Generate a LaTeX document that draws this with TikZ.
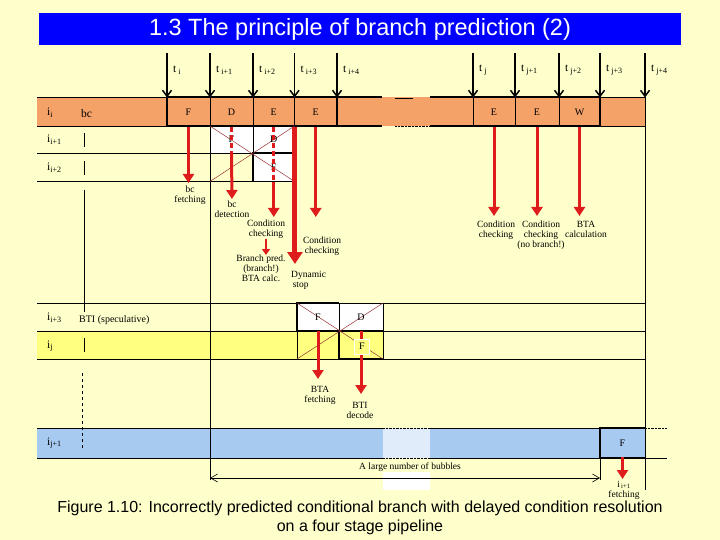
\documentclass[tikz,border=0pt]{standalone}
\usepackage{fontspec}
\setmainfont{Liberation Serif}
\newfontfamily\arialfont{Liberation Sans}
\usetikzlibrary{arrows.meta,positioning}
\definecolor{bgyellow}{RGB}{255,255,204}
\definecolor{titleblue}{RGB}{0,0,255}
\definecolor{stageorange}{RGB}{245,162,105}
\definecolor{rowyellow}{RGB}{255,255,128}
\definecolor{rowblue}{RGB}{166,202,240}
\definecolor{predred}{RGB}{222,28,28}
\definecolor{crossred}{RGB}{150,50,50}
\tikzset{
	tarrow/.style={line width=1.8pt,-{Straight Barb[length=6pt,width=9pt,line width=1.5pt]}},
	tlab/.style={font=\fontsize{11.5}{12}\selectfont,anchor=west,inner sep=0pt},
	rowlab/.style={font=\fontsize{11.5}{12}\selectfont,anchor=west,inner sep=0pt},
	stage/.style={font=\fontsize{10}{11}\selectfont,minimum width=42pt,minimum height=28.5pt,inner sep=0pt},
	lbl/.style={font=\fontsize{9.5}{10}\selectfont,align=center,inner sep=0pt,anchor=north},
	redarr/.style={draw=predred,line width=3pt,-{Triangle[length=9pt,width=11pt]}},
	redbig/.style={draw=predred,line width=5pt,-{Triangle[length=12pt,width=15pt]}},
	redsmall/.style={draw=predred,line width=2.2pt,-{Triangle[length=6pt,width=8pt]}},
	reddash/.style={draw=predred,line width=3pt,dash pattern=on 5pt off 3pt},
	crossln/.style={draw=crossred,line width=0.5pt},
	thinline/.style={line width=0.6pt},
	boldline/.style={line width=2pt},
}
\begin{document}
\begin{tikzpicture}[x=1pt,y=-1pt]
	\useasboundingbox (0,0) rectangle (720,540);
	\fill[bgyellow] (0,0) rectangle (720,540);
	% title
	\fill[titleblue] (39,13) rectangle (681,45);
	\node[font=\arialfont\fontsize{23.5}{26}\selectfont,text=white] (title) at (360,29.5) {1.3 The principle of branch prediction (2)};
	
	% row fills
	\fill[stageorange] (37,97.5) rectangle (645,126);
	\fill[white] (210,126) rectangle (294.5,153);
	\fill[white] (253,153) rectangle (294.5,181.5);
	\fill[rowyellow] (37,331) rectangle (383,359);
	\fill[white] (297,303) rectangle (383,331);
	\fill[rowblue] (37,428) rectangle (645,458);
	\fill[rowblue!35!white] (383,428) rectangle (430,458);
	
	% grid lines
	\draw[thinline] (37,97.5) -- (167,97.5);
	\draw[thinline] (37,126) -- (210,126);
	\draw[thinline] (37,153) -- (253,153);
	\draw[thinline] (37,181.5) -- (294.5,181.5);
	\draw[thinline] (210,97.5) -- (210,480);
	\draw[thinline] (253,97.5) -- (253,153);
	\draw[thinline] (294.5,97.5) -- (294.5,126);
	\draw[thinline] (210,126) rectangle (294.5,153);
	\draw[boldline] (382,97.5) -- (167,97.5) -- (167,126) -- (382,126);
	\draw[boldline] (337,97.5) -- (337,126);
	\draw[boldline] (253,181.5) -- (253,153) -- (294.5,153);
	\draw[boldline] (430,97.5) -- (600,97.5) -- (600,126) -- (430,126);
	\draw[thinline] (600,97.5) -- (645,97.5) (600,126) -- (645,126);
	\draw[thinline] (473,97.5) -- (473,126) (515,97.5) -- (515,126) (559,97.5) -- (559,126);
	\draw[thinline] (645,97.5) -- (645,490);
	\draw[thinline] (395,98.5) -- (413,98.5);
	\draw[densely dotted] (395,126) -- (430,126);
	\draw[crossln] (210,126) -- (294.5,181.5) (210,181.5) -- (294.5,126);
	
	\draw[thinline] (84,133) -- (84,147) (84,161) -- (84,175) (84,190) -- (84,312) (84,338) -- (84,352);
	\draw[thinline,dashed] (82,373) -- (82,448);
	
	\draw[thinline] (37,303) -- (645,303) (37,331) -- (645,331) (37,359) -- (645,359);
	\draw[thinline] (339,303) -- (339,331) (383,303) -- (383,359) (297,331) -- (297,359);
	\draw[boldline] (297,331) -- (297,303) -- (339,303);
	\draw[boldline] (297,331) -- (383,331);
	\draw[boldline] (339,331) -- (339,359) -- (383,359);
	\draw[crossln] (297,303) -- (383,359) (297,359) -- (383,303);
	
	\draw[thinline] (37,428) -- (383,428) (430,428) -- (645,428);
	\draw[densely dotted] (383,428) -- (430,428) (645,428) -- (667,428) (383,458) -- (430,458);
	\draw[thinline] (37,458) -- (383,458) (430,458) -- (667,458);
	\draw[boldline] (645,428) -- (600,428) -- (600,458) -- (645,458);
	\draw[thinline] (600,458) -- (600,480);
	
	% time marks
	\foreach \x/\n/\s in {167/i/i, 210/ia/i+1, 253/ib/i+2, 294.5/ic/i+3, 337/id/i+4,
		473/j/j, 515/ja/j+1, 559/jb/j+2, 600/jc/j+3, 645/jd/j+4}{
		\coordinate (top\n) at (\x,53);
		\coordinate (bot\n) at (\x,97.5);
		\node[tlab] (lab\n) at (\x+6,70) {t\,\textsubscript{\s}};
		\draw[tarrow] (top\n) -- (bot\n);
	}
	
	% row labels
	\node[rowlab] (rii) at (47,113) {i\textsubscript{i}};
	\node[rowlab] (rbc) at (81,114) {bc};
	\node[rowlab] (ria) at (47,140) {i\textsubscript{i+1}};
	\node[rowlab] (rib) at (47,168) {i\textsubscript{i+2}};
	\node[rowlab] (ric) at (47,318) {i\textsubscript{i+3}};
	\node[rowlab,font=\fontsize{10}{11}\selectfont] (rbti) at (79,320) {BTI (speculative)};
	\node[rowlab] (rij) at (47,346) {i\textsubscript{j}};
	\node[rowlab] (rija) at (47,443) {i\textsubscript{j+1}};
	
	% stages
	\node[stage] (oF) at (188.5,112.5) {F};
	\node[stage] (oD) at (231.5,112.5) {D};
	\node[stage] (oE) at (273.75,112.5) {E};
	\node[stage] (oE2) at (315.75,112.5) {E};
	\node[stage] (cF1) at (231.5,139.5) {F};
	\node[stage] (cD1) at (273.75,139.5) {D};
	\node[stage] (cF2) at (273.75,167.25) {F};
	\node[stage] (rE1) at (494,112.5) {E};
	\node[stage] (rE2) at (537,112.5) {E};
	\node[stage] (rW) at (579.5,112.5) {W};
	\node[stage] (sF) at (318,317) {F};
	\node[stage] (sD) at (361,317) {D};
	\node[stage] (bF) at (622.5,443) {F};
	
	% notes
	\node[lbl] (bcf) at (190,186) {bc\\fetching};
	\node[lbl] (bcd) at (232,201) {bc\\detection};
	\node[lbl] (cc1) at (266,220) {Condition\\checking};
	\node[lbl] (bp) at (261,255) {Branch pred.\\(branch!)\\BTA calc.};
	\node[lbl,anchor=north west,align=left] (dyn) at (291,271) {Dynamic\\\,stop};
	\node[lbl] (cc2) at (322,237) {Condition\\checking};
	\node[lbl] (cc3) at (496,221) {Condition\\checking};
	\node[lbl] (cc4) at (541,221) {Condition\\checking\\(no branch!)};
	\node[lbl] (bta) at (586,221) {BTA\\calculation};
	\node[lbl] (btaf) at (320,386) {BTA\\fetching};
	\node[lbl] (btid) at (360,402) {BTI\\decode};
	\node[lbl] (nxt) at (624,481) {i\textsubscript{\,i+1}\\fetching};
	
	% predictions
	\draw[redarr,shorten >=3pt] (oF.south) -- (oF.south |- bcf.north);
	\draw[reddash] (oD.south) -- (cF1.south);
	\draw[redarr,shorten >=2pt] (cF1.south) -- (bcd.north);
	\draw[reddash] (oE.south) -- (cF2.south);
	\draw[redarr,shorten >=3pt] (cF2.south) -- (cF2.south |- cc1.north);
	\draw[redsmall] (cc1.south) -- (cc1.south |- bp.north);
	\draw[redbig,shorten >=7pt] (oE.south east) -- (oE.south east |- dyn.north);
	\draw[redarr,shorten >=20pt] (oE2.south) -- (oE2.south |- cc2.north);
	\draw[redarr,shorten >=5pt] (rE1.south) -- (rE1.south |- cc3.north);
	\draw[redarr,shorten >=5pt] (rE2.south) -- (rE2.south |- cc4.north);
	\draw[redarr,shorten >=5pt] (rW.south) -- (rW.south |- bta.north);
	\draw[redarr,shorten >=7pt] (sF.south) -- (sF.south |- btaf.north);
	\draw[redarr,shorten >=8pt] (sD.south) -- (sD.south |- btid.north);
	\node[stage,draw=white,line width=1pt,fill=rowyellow,minimum width=15pt,minimum height=15pt] (jF) at (362,346.5) {F};
	\draw[redarr,shorten >=2pt] (bF.south) -- (bF.south |- nxt.north);
	
	% bubbles
	\fill[white] (383,472) rectangle (430,490);
	\coordinate (bubL) at (210,478);
	\coordinate (bubR) at (600,478);
	\draw[thinline,{Straight Barb[length=7pt,width=8pt]}-{Straight Barb[length=7pt,width=8pt]}] (bubL) -- (bubR);
	\node[font=\fontsize{9.5}{10}\selectfont,inner sep=0pt] (bubtxt) at (410,467) {A large number of bubbles};
	
	% caption
	\node[font=\arialfont\fontsize{16}{19}\selectfont,align=center] (caption) at (360,518) {Figure 1.10: Incorrectly predicted conditional branch with delayed condition resolution\\on a four stage pipeline};
\end{tikzpicture}
\end{document}
